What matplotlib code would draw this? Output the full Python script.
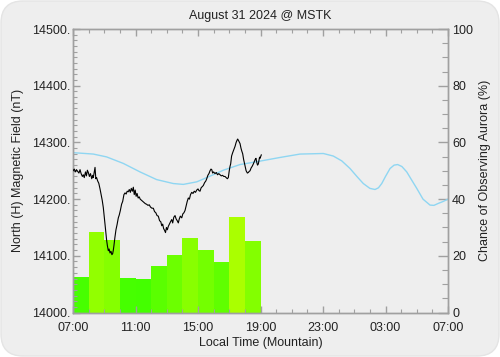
import matplotlib
matplotlib.use("Agg")
import matplotlib.pyplot as plt
from matplotlib.patches import FancyBboxPatch
from matplotlib.ticker import MultipleLocator, FixedLocator, FuncFormatter
from matplotlib.colors import LinearSegmentedColormap

# --- datos ---
titulo = "August 31 2024 @ MSTK"
etiquetas_x = ["07:00", "11:00", "15:00", "19:00", "23:00", "03:00", "07:00"]

# probabilidad de aurora por hora (%), barras de 07:00 a 19:00
barras_pct = [12.5, 28.4, 25.7, 12.2, 11.8, 16.4, 20.4, 26.4, 22.1, 17.9, 33.6, 25.4]

# campo magnetico (nT), horas desde las 07:00
mag_h = [0.00, 0.08, 0.15, 0.22, 0.30, 0.38, 0.45, 0.52, 0.60, 0.66, 0.72, 0.80,
         0.86, 0.92, 0.98, 1.05, 1.12, 1.20, 1.26, 1.30, 1.36, 1.41, 1.46, 1.51,
         1.58, 1.65, 1.73, 1.80, 1.87, 1.94, 2.00, 2.07, 2.15, 2.20, 2.26, 2.31,
         2.37, 2.43, 2.49, 2.54, 2.58, 2.62, 2.68, 2.75, 2.82, 2.90, 2.96, 3.03,
         3.11, 3.18, 3.26, 3.33, 3.40, 3.47, 3.54, 3.60, 3.67, 3.73, 3.80, 3.86,
         3.92, 3.98, 4.04, 4.10, 4.17, 4.24, 4.30, 4.38, 4.46, 4.55, 4.63, 4.71,
         4.80, 4.88, 4.96, 5.05, 5.14, 5.22, 5.30, 5.38, 5.46, 5.54, 5.62, 5.68,
         5.74, 5.80, 5.86, 5.92, 5.98, 6.04, 6.10, 6.17, 6.24, 6.32, 6.38, 6.45,
         6.53, 6.60, 6.67, 6.74, 6.80, 6.87, 6.96, 7.03, 7.10, 7.17, 7.24, 7.31,
         7.38, 7.45, 7.52, 7.60, 7.68, 7.76, 7.84, 7.92, 8.00, 8.06, 8.13, 8.20,
         8.27, 8.34, 8.42, 8.50, 8.56, 8.63, 8.70, 8.77, 8.83, 8.88, 8.94, 9.00,
         9.09, 9.17, 9.25, 9.33, 9.41, 9.49, 9.57, 9.65, 9.73, 9.80, 9.88, 9.94,
         10.00, 10.05, 10.09, 10.15, 10.22, 10.30, 10.37, 10.44, 10.50, 10.54, 10.60, 10.65,
         10.69, 10.75, 10.80, 10.86, 10.92, 10.97, 11.01, 11.08, 11.16, 11.22, 11.28, 11.33,
         11.40, 11.47, 11.54, 11.60, 11.66, 11.71, 11.76, 11.81, 11.86, 11.90, 11.94, 11.97,
         12.02, 12.05]
mag_nt = [14250, 14253, 14248, 14252, 14249, 14246, 14252, 14245, 14240, 14243, 14238, 14248,
          14241, 14251, 14247, 14240, 14245, 14236, 14242, 14238, 14248, 14256, 14236, 14238,
          14232, 14228, 14218, 14208, 14198, 14185, 14168, 14150, 14128, 14118, 14109, 14112,
          14105, 14108, 14102, 14104, 14110, 14118, 14132, 14146, 14155, 14167, 14172, 14180,
          14191, 14196, 14208, 14211, 14209, 14214, 14213, 14217, 14212, 14219, 14214, 14221,
          14208, 14216, 14205, 14210, 14202, 14204, 14200, 14198, 14196, 14194, 14192, 14191,
          14189, 14190, 14186, 14184, 14184, 14178, 14176, 14171, 14170, 14162, 14160, 14153,
          14156, 14148, 14145, 14141, 14150, 14146, 14152, 14156, 14160, 14164, 14158, 14168,
          14171, 14165, 14162, 14158, 14165, 14170, 14167, 14174, 14176, 14180, 14188, 14196,
          14202, 14200, 14208, 14212, 14210, 14214, 14212, 14216, 14218, 14215, 14214, 14220,
          14222, 14224, 14229, 14232, 14236, 14242, 14245, 14250, 14253, 14252, 14246, 14248,
          14245, 14247, 14243, 14245, 14243, 14241, 14242, 14240, 14240, 14238, 14236, 14238,
          14250, 14258, 14262, 14276, 14282, 14288, 14293, 14300, 14304, 14306, 14303, 14300,
          14298, 14290, 14285, 14280, 14270, 14264, 14260, 14250, 14246, 14247, 14249, 14250,
          14255, 14258, 14262, 14266, 14270, 14272, 14265, 14260, 14262, 14268, 14274, 14272,
          14276, 14278]

# prediccion de probabilidad (%), horas desde las 07:00
pred_h = [0.0, 1.3, 2.15, 3.22, 4.29, 5.35, 6.42, 7.06, 7.92, 8.56, 9.62, 10.69,
          11.76, 13.25, 14.53, 15.3, 16.02, 16.66, 17.2, 17.73, 18.2, 18.58, 19.0,
          19.33, 19.55, 19.76, 20.0, 20.29, 20.55, 20.78, 21.05, 21.36, 21.7, 22.0,
          22.4, 22.85, 23.1, 23.38, 23.7, 24.0]
pred_pct = [56.4, 55.9, 54.9, 52.6, 49.6, 46.9, 45.5, 45.2, 46.1, 47.6, 50.2, 52.2,
            53.2, 54.7, 55.9, 56.0, 56.1, 55.2, 53.5, 50.8, 47.8, 45.5, 43.8,
            43.4, 44.0, 45.5, 48.0, 50.8, 52.0, 52.2, 51.5, 49.6, 46.5, 43.8,
            40.0, 37.9, 37.8, 38.5, 39.2, 40.0]

# --- figura ---
plt.rcParams['font.family'] = ['Liberation Sans', 'DejaVu Sans']
plt.rcParams['font.size'] = 9

fig = plt.figure(figsize=(5, 3.57), dpi=100)
fig.patch.set_facecolor('white')
fondo = FancyBboxPatch((1, 1), 498, 355, boxstyle="round,pad=0,rounding_size=22",
                       transform=None, facecolor='#eeeeee', edgecolor='#e4e4e4', lw=1,
                       zorder=-10)
fig.patches.append(fondo)

gris = '#a0a0a0'
texto = '#222222'
ax = fig.add_axes([0.146, 0.1246, 0.75, 0.794])
ax2 = ax.twinx()

# barras en el eje derecho, color segun valor
cmap = LinearSegmentedColormap.from_list('verdes', ['#3cff00', '#b0ff00'])
vmin, vmax = 10, 35
colores = [cmap((v - vmin) / (vmax - vmin)) for v in barras_pct]
x_barras = [i + 0.5 for i in range(len(barras_pct))]
ax2.bar(x_barras, barras_pct, width=1.0, color=colores, edgecolor='none', zorder=1)

ax2.plot(pred_h, pred_pct, color='#8fd6f2', lw=1.0, zorder=2)
ax.plot(mag_h, mag_nt, color='black', lw=0.8, zorder=3)
ax.set_zorder(ax2.get_zorder() + 1)
ax.patch.set_visible(False)
ax2.patch.set_visible(False)

ax.set_xlim(0, 24)
ax.set_ylim(14000, 14500)
ax2.set_ylim(0, 100)

ax.xaxis.set_major_locator(FixedLocator([0, 4, 8, 12, 16, 20, 24]))
ax.xaxis.set_minor_locator(MultipleLocator(1))
ax.set_xticklabels(etiquetas_x)
ax.yaxis.set_major_locator(MultipleLocator(100))
ax.yaxis.set_minor_locator(MultipleLocator(10))
ax.yaxis.set_major_formatter(FuncFormatter(lambda v, p: '%d.' % v))
ax2.yaxis.set_major_locator(MultipleLocator(20))
ax2.yaxis.set_minor_locator(MultipleLocator(5))

for s in list(ax.spines.values()) + list(ax2.spines.values()):
    s.set_color(gris)
    s.set_linewidth(1)

ax.tick_params(which='both', direction='in', color=gris, labelcolor=texto,
               top=True, labelsize=9)
ax.tick_params(axis='x', which='major', length=5, width=1, pad=7)
ax.tick_params(axis='y', which='major', length=5, width=1, pad=2)
ax.tick_params(which='minor', length=3, width=0.8)
ax2.tick_params(which='both', direction='in', color=gris, labelcolor=texto, labelsize=9)
ax2.tick_params(which='major', length=7, width=1, pad=3)
ax2.tick_params(which='minor', length=4, width=0.8)

ax.set_xlabel('Local Time (Mountain)', fontsize=9, labelpad=2, color=texto)
ax.set_ylabel('North (H) Magnetic Field (nT)', fontsize=9, labelpad=6, color=texto)
ax2.set_ylabel('Chance of Observing Aurora (%)', fontsize=9, labelpad=4, color=texto)
ax.set_title(titulo, fontsize=9, pad=7, color=texto)

fig.savefig('out.png', dpi=100, facecolor='white')
